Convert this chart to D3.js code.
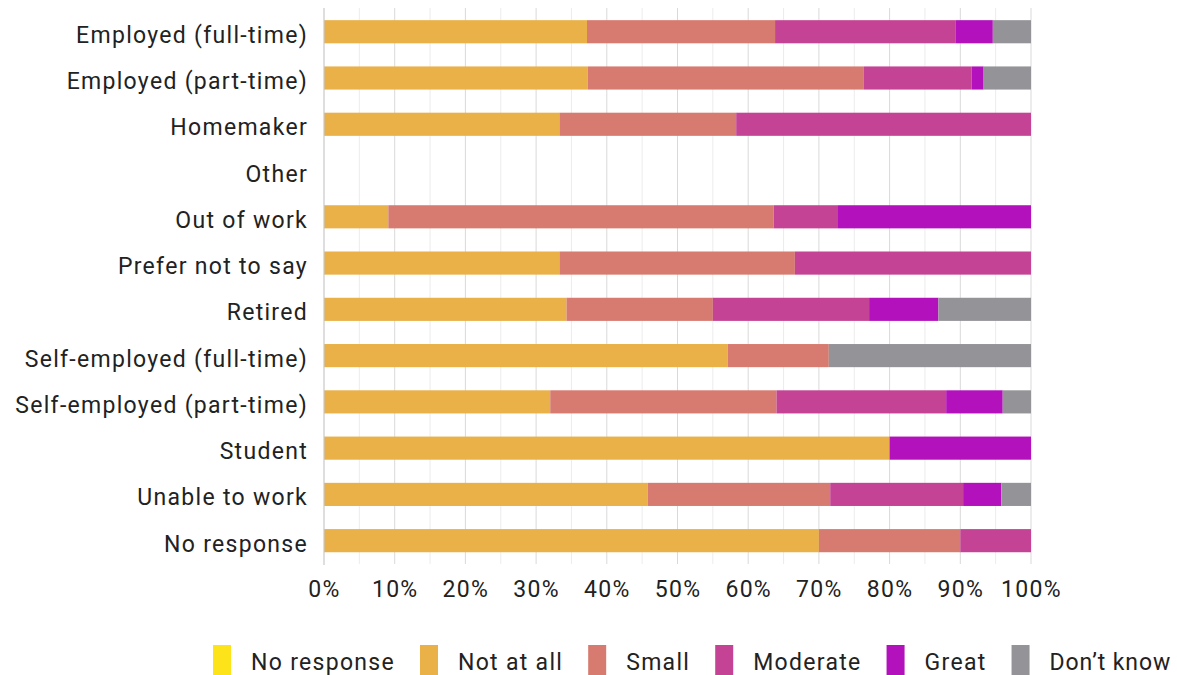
<!DOCTYPE html>
<html><head><meta charset="utf-8">
<script src="https://cdn.jsdelivr.net/npm/d3@7"></script>
<style>
body{margin:0;background:#fff;}
svg{display:block;font-family:Roboto, "Noto Sans", sans-serif;}
</style></head>
<body><svg id="c" width="1177" height="675"></svg>
<script>
const categories = ["Employed (full-time)","Employed (part-time)","Homemaker","Other","Out of work","Prefer not to say","Retired","Self-employed (full-time)","Self-employed (part-time)","Student","Unable to work","No response"];
const seriesNames = ["No response","Not at all","Small","Moderate","Great","Don’t know"];
const seriesColors = ["#FCE31A","#E9B147","#D77A6F","#C44394","#B211BB","#949498"];
const noResponse = [0,0,0,0,0,0,0,0,0,0,0,0];
const notAtAll   = [37.2,37.3,33.3,0,9.1,33.3,34.3,57.1,32,80,45.8,70];
const small      = [26.6,39.0,25.0,0,54.5,33.3,20.7,14.3,32,0,25.8,20];
const moderate   = [25.5,15.3,41.7,0,9.1,33.4,22.1,0,24,0,18.8,10];
const great      = [5.3,1.7,0,0,27.3,0,9.8,0,8,20,5.4,0];
const dontKnow   = [5.4,6.7,0,0,0,0,13.1,28.6,4,0,4.2,0];
const xTicks = [0,10,20,30,40,50,60,70,80,90,100];

const seriesValues = [noResponse,notAtAll,small,moderate,great,dontKnow];
const rows = categories.map((c,i)=>{const r={cat:c}; seriesNames.forEach((s,j)=>r[s]=seriesValues[j][i]); return r;});

const FS = 23, LS = 1.3;
const svg = d3.select("#c");
const x = d3.scaleLinear().domain([0,100]).range([324,1031]);
const y = d3.scaleBand().domain(categories).range([8.6,563.8]).paddingInner(0.5).paddingOuter(0.25);
const color = d3.scaleOrdinal().domain(seriesNames).range(seriesColors);

// grid
const minor = d3.range(5,100,10);
svg.append("g").selectAll("line").data(minor).join("line")
  .attr("x1",d=>x(d)).attr("x2",d=>x(d)).attr("y1",8).attr("y2",564)
  .attr("stroke","#ececec").attr("stroke-width",1);
svg.append("g").selectAll("line").data(xTicks.slice(1)).join("line")
  .attr("x1",d=>x(d)).attr("x2",d=>x(d)).attr("y1",8).attr("y2",564)
  .attr("stroke","#d9d9d9").attr("stroke-width",1);

// bars
const stack = d3.stack().keys(seriesNames)(rows);
svg.append("g").selectAll("g").data(stack).join("g").attr("fill",d=>color(d.key))
  .selectAll("rect").data(d=>d).join("rect")
  .attr("x",d=>x(d[0])).attr("width",d=>Math.max(0,x(d[1])-x(d[0])))
  .attr("y",d=>y(d.data.cat)).attr("height",y.bandwidth());

// zero axis line
svg.append("line").attr("x1",x(0)).attr("x2",x(0)).attr("y1",8).attr("y2",565)
  .attr("stroke","#c8c8c8").attr("stroke-width",1.2);

// y axis
const ya = svg.append("g").attr("transform",`translate(${x(0)},0)`)
  .call(d3.axisLeft(y).tickSize(0).tickPadding(16));
ya.select(".domain").remove();
ya.selectAll("text").attr("font-size",FS).attr("letter-spacing",LS).attr("dy","0.48em")
  .attr("fill","#222").attr("font-family","Roboto, sans-serif");

// x axis
const xa = svg.append("g").attr("transform","translate(0,564)")
  .call(d3.axisBottom(x).tickValues(xTicks).tickFormat(d=>d+"%").tickSize(0));
xa.select(".domain").remove();
xa.selectAll("text").attr("font-size",FS).attr("letter-spacing",LS).attr("y",32.7).attr("dy",0)
  .attr("fill","#222").attr("font-family","Roboto, sans-serif");

// legend
const lg = svg.append("g");
let lx = 213;
seriesNames.forEach((s,i)=>{
  lg.append("rect").attr("x",lx).attr("y",645).attr("width",18).attr("height",30).attr("fill",seriesColors[i]);
  const t = lg.append("text").attr("x",lx+38).attr("y",670)
    .attr("font-size",FS).attr("letter-spacing",i===5?0.9:LS).attr("fill","#222").text(s);
  lx = lx + 38 + t.node().getComputedTextLength() + 25;
});
</script></body></html>
